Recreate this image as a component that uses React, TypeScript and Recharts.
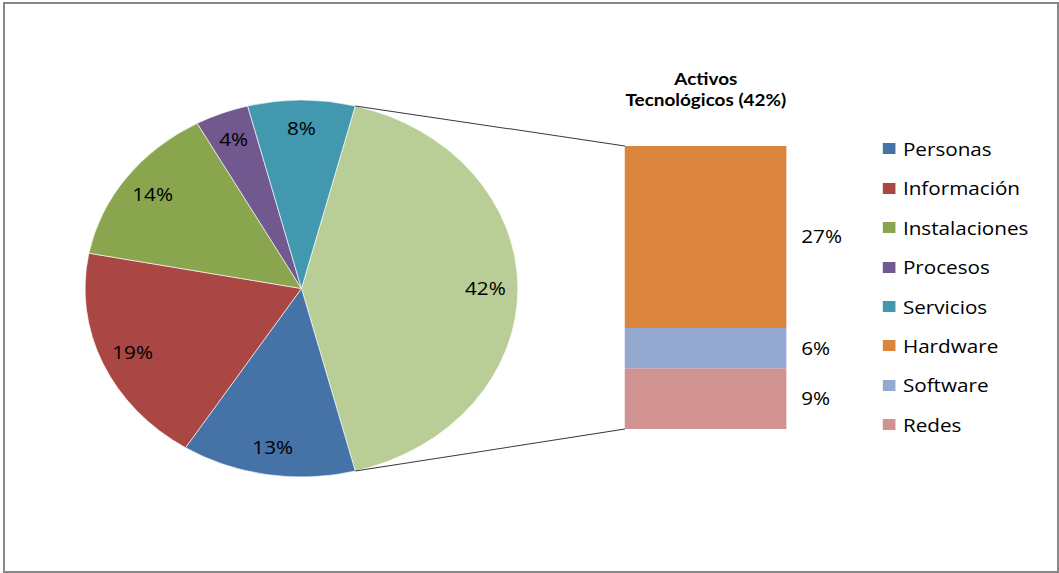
import React from 'react';
import { PieChart, Pie, Cell, BarChart, Bar, XAxis, YAxis, LabelList, Legend } from 'recharts';

// pie slices, clockwise starting with the aggregated slice
const pieNames = ['Activos Tecnológicos', 'Personas', 'Información', 'Instalaciones', 'Procesos', 'Servicios'];
const pieValues = [42, 13, 19, 14, 4, 8];
const pieColors = ['#B9CD96', '#4572A7', '#AA4643', '#89A54E', '#71588F', '#4198AF'];

// breakdown bar (top to bottom)
const barNames = ['Hardware', 'Software', 'Redes'];
const barValues = [27, 6, 9];
const barColors = ['#DB843D', '#93A9CF', '#D19392'];

const legendNames = ['Personas', 'Información', 'Instalaciones', 'Procesos', 'Servicios', 'Hardware', 'Software', 'Redes'];
const legendColors = ['#4572A7', '#AA4643', '#89A54E', '#71588F', '#4198AF', '#DB843D', '#93A9CF', '#D19392'];

const titleLines = ['Activos', 'Tecnológicos (42%)'];

const FONT = '"Open Sans", Lato, sans-serif';
const TITLE_FONT = 'Lato, "Open Sans", sans-serif';
const SX = 1.148; // the whole picture is stretched horizontally
const W = 1059;
const H = 573;
const NW = W / SX;

// layout (unstretched coords)
const PIE_CX = 262.6;
const PIE_CY = 288.5;
const PIE_R = 188.5;
const BAR_LEFT = 544.4;
const BAR_TOP = 146;
const BAR_W = 141;
const BAR_H = 283;

const pieData = pieNames.map((name, i) => ({ name, value: pieValues[i] }));
const barRow: Record<string, string | number> = { name: 'Activos Tecnológicos' };
barNames.forEach((n, i) => { barRow[n] = barValues[i]; });
const barData = [barRow];
const barTotal = barValues.reduce((a, b) => a + b, 0);

// aggregated slice centred on 3 o'clock
const startAngle = (pieValues[0] / 100) * 180;
const endAngle = startAngle - 360;

const RAD = Math.PI / 180;

const renderPieLabel = (props: any) => {
  const { cx, cy, midAngle, outerRadius, value } = props;
  const r = outerRadius * 0.85;
  const x = cx + r * Math.cos(-midAngle * RAD);
  const y = cy + r * Math.sin(-midAngle * RAD);
  return (
    <text x={x} y={y} textAnchor="middle" dominantBaseline="central" fill="#000" fontSize={18} fontFamily={FONT}>
      {value}%
    </text>
  );
};

const LegendBox = () => (
  <div style={{ fontFamily: FONT, fontSize: 18, color: '#000' }}>
    {legendNames.map((n, i) => (
      <div key={n} style={{ height: 39.4, display: 'flex', alignItems: 'center' }}>
        <span style={{ display: 'inline-block', width: 10.5, height: 11, background: legendColors[i], marginRight: 7 }} />
        <span style={{ whiteSpace: 'nowrap' }}>{n}</span>
      </div>
    ))}
  </div>
);

export default function App() {
  // connector end points
  const p1x = PIE_CX + PIE_R * Math.cos(startAngle * RAD);
  const p1y = PIE_CY - PIE_R * Math.sin(startAngle * RAD);
  const p2y = PIE_CY + PIE_R * Math.sin(startAngle * RAD);

  return (
    <div style={{ position: 'absolute', left: 0, top: 0, width: W, height: H, background: '#fff', overflow: 'hidden' }}>
      <div style={{ position: 'absolute', left: 3, top: 2, width: W - 3, height: H - 2, border: '2px solid #878787', boxSizing: 'border-box' }} />
      <div style={{ position: 'absolute', left: 0, top: 0, width: NW, height: H, transform: `scaleX(${SX})`, transformOrigin: '0 0' }}>
        <div style={{ position: 'absolute', left: 0, top: 0 }}>
          <PieChart width={NW} height={H} margin={{ top: 0, right: 0, bottom: 0, left: 0 }}>
            <Pie
              data={pieData}
              dataKey="value"
              nameKey="name"
              cx={PIE_CX}
              cy={PIE_CY}
              outerRadius={PIE_R}
              startAngle={startAngle}
              endAngle={endAngle}
              label={renderPieLabel}
              labelLine={false}
              stroke="#fff"
              strokeWidth={0.6}
              isAnimationActive={false}
            >
              {pieData.map((d, i) => <Cell key={d.name} fill={pieColors[i]} />)}
            </Pie>
            <Legend
              content={() => <LegendBox />}
              wrapperStyle={{ position: 'absolute', left: 769, top: 129.3, width: 150, height: 320 }}
            />
          </PieChart>
        </div>
        <div style={{ position: 'absolute', left: BAR_LEFT, top: BAR_TOP }}>
          <BarChart width={BAR_W + 60} height={BAR_H} data={barData} margin={{ top: 0, right: 60, bottom: 0, left: 0 }} barCategoryGap={0}>
            <XAxis dataKey="name" hide />
            <YAxis type="number" domain={[0, barTotal]} hide />
            {[...barNames].reverse().map((n) => {
              const i = barNames.indexOf(n);
              return (
                <Bar key={n} dataKey={n} stackId="a" fill={barColors[i]} isAnimationActive={false}>
                  <LabelList
                    dataKey={n}
                    position="right"
                    offset={13}
                    formatter={(v: any) => `${v}%`}
                    fill="#000"
                    fontSize={18}
                    fontFamily={FONT}
                  />
                </Bar>
              );
            })}
          </BarChart>
        </div>
        <svg width={NW} height={H} style={{ position: 'absolute', left: 0, top: 0, pointerEvents: 'none' }}>
          <line x1={p1x} y1={p1y} x2={BAR_LEFT} y2={BAR_TOP} stroke="#3a3a3a" strokeWidth={1} />
          <line x1={p1x} y1={p2y} x2={BAR_LEFT} y2={BAR_TOP + BAR_H} stroke="#3a3a3a" strokeWidth={1} />
          {titleLines.map((t, i) => (
            <text key={t} x={BAR_LEFT + BAR_W / 2} y={85 + i * 21} textAnchor="middle" fontFamily={TITLE_FONT} fontWeight="bold" fontSize={16.5} fill="#000">
              {t}
            </text>
          ))}
        </svg>
      </div>
    </div>
  );
}
